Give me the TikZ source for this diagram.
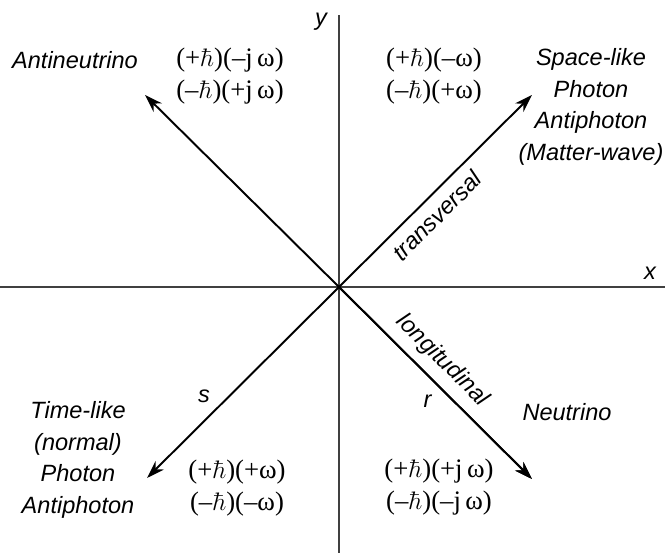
\documentclass[tikz,border=0pt]{standalone}
\usepackage[no-math]{fontspec}
\setmainfont{Liberation Serif}
\setsansfont{Liberation Sans}
\usetikzlibrary{arrows.meta}

\begin{document}
\begin{tikzpicture}[
  x=0.02cm, y=0.02cm,
  >={Stealth[length=3.6mm,width=2.4mm]},
  axisline/.style={line width=0.6pt,black!75},
  ray/.style={->,line width=1.1pt},
  name lab/.style={font=\sffamily\itshape\fontsize{13.4}{17.9}\selectfont,align=center,inner sep=0pt},
  pair lab/.style={font=\fontsize{15.2}{17.9}\selectfont,align=center,inner sep=0pt},
  ray lab/.style={font=\sffamily\itshape\fontsize{13.4}{16}\selectfont,inner sep=1pt}
]
\useasboundingbox (-339,-266) rectangle (326,287);

% Axes
\coordinate (O) at (0,0);
\coordinate (xl) at (-339,0);
\coordinate (xr) at (326,0);
\coordinate (yb) at (0,-266);
\coordinate (yt) at (0,272);
\draw[axisline] (xl) -- (xr);
\draw[axisline] (yb) -- (yt);
\node[ray lab] (xlab) at (311,14) {x};
\node[ray lab] (ylab) at (-18,265) {y};

% Rays from the origin
\coordinate (ne) at (193,192);
\coordinate (nw) at (-194,192);
\coordinate (sw) at (-192,-191);
\coordinate (se) at (193,-192);
\draw[ray] (O) -- node[ray lab,sloped,below=4pt,pos=0.44] {transversal} (ne);
\draw[ray] (O) -- (nw);
\draw[ray] (O) -- node[ray lab,pos=0.64,above left=2pt] {s} (sw);
\draw[ray] (O) -- node[ray lab,sloped,above=4pt,pos=0.46] {longitudinal} (se);
\draw[ray] (O) -- node[ray lab,pos=0.52,below left=3pt] {r} (se);

% Second quadrant
\node[name lab] (antineu) at (-264,227) {Antineutrino};
\node[pair lab] (nwpair) at (-109,211) {(+$\hbar$)(–j\,ω)\\(–$\hbar$)(+j\,ω)};

% First quadrant
\node[pair lab] (nepair) at (95,211) {(+$\hbar$)(–ω)\\(–$\hbar$)(+ω)};
\node[name lab] (spacelike) at (252,180) {Space-like\\Photon\\Antiphoton\\(Matter-wave)};

% Third quadrant
\node[name lab] (timelike) at (-261,-173) {Time-like\\(normal)\\Photon\\Antiphoton};
\node[pair lab] (swpair) at (-102,-201) {(+$\hbar$)(+ω)\\(–$\hbar$)(–ω)};

% Fourth quadrant
\node[name lab] (neutrino) at (228,-125) {Neutrino};
\node[pair lab] (sepair) at (100,-200) {(+$\hbar$)(+j\,ω)\\(–$\hbar$)(–j\,ω)};

\end{tikzpicture}
\end{document}
